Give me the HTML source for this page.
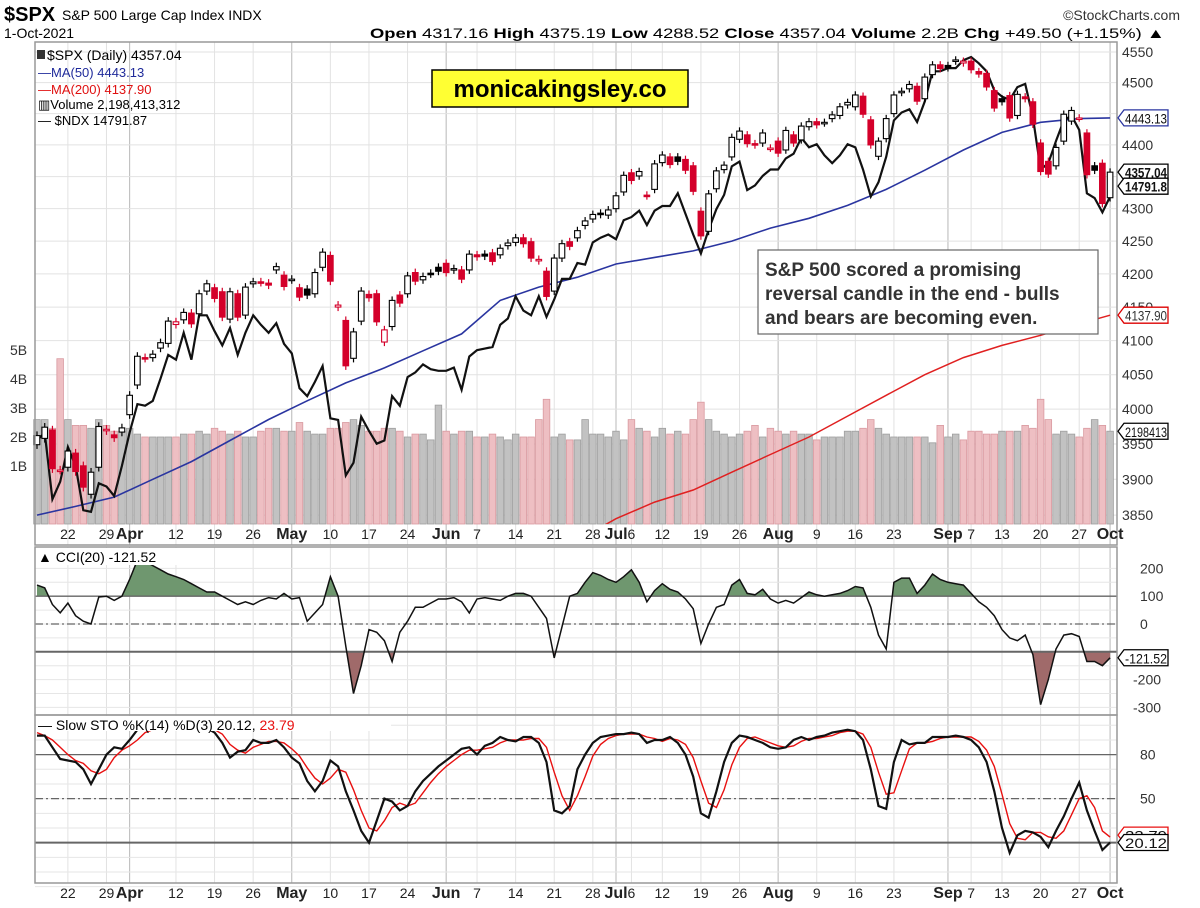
<!DOCTYPE html>
<html><head><meta charset="utf-8"><title>$SPX chart</title>
<style>
html,body{margin:0;padding:0;background:#fff;}
svg{display:block;font-family:"Liberation Sans",Arial,sans-serif;}
</style></head>
<body>
<svg id="chart" width="1200" height="908" viewBox="0 0 1200 908" xmlns="http://www.w3.org/2000/svg">
  <text x="4" y="21" font-size="20" font-weight="bold">$SPX</text>
  <text x="62" y="20" font-size="14">S&amp;P 500 Large Cap Index INDX</text>
  <text x="1180" y="20" font-size="14" text-anchor="end" fill="#333">©StockCharts.com</text>
  <text x="4" y="38" font-size="14">1-Oct-2021</text>
  <text x="370" y="38" font-size="14" textLength="795" lengthAdjust="spacingAndGlyphs"><tspan font-weight="bold">Open</tspan> 4317.16  <tspan font-weight="bold">High</tspan> 4375.19  <tspan font-weight="bold">Low</tspan> 4288.52  <tspan font-weight="bold">Close</tspan> 4357.04  <tspan font-weight="bold">Volume</tspan> 2.2B  <tspan font-weight="bold">Chg</tspan> +49.50 (+1.15%) ▲</text>
  <g id="grid"></g>
  <g id="vol"></g>
  <g id="lines"></g>
  <g id="candles"></g>
  <g id="ind"></g>
  <g id="frames"></g>
  <g id="labels"></g>

  <g font-size="14">
    <text x="47" y="60">$SPX (Daily) 4357.04</text>
    <rect x="37" y="50" width="8" height="9" fill="#333"/>
    <text x="38" y="77" fill="#1f2a9a" font-size="13">—MA(50) 4443.13</text>
    <text x="38" y="94" fill="#e01010" font-size="13">—MA(200) 4137.90</text>
    <text x="38" y="109" font-size="13">▥Volume 2,198,413,312</text>
    <text x="38" y="125" font-size="13">— $NDX 14791.87</text>
  </g>
  <g>
    <rect x="432" y="70" width="256" height="37" fill="#ffff33" stroke="#000" stroke-width="1.5"/>
    <text x="560" y="97" font-size="24" font-weight="bold" text-anchor="middle">monicakingsley.co</text>
  </g>
  <g>
    <rect x="758" y="250" width="340" height="84" fill="#fff" stroke="#666" stroke-width="1.2"/>
    <text x="765" y="276" font-size="19" font-weight="bold" fill="#333">S&amp;P 500 scored a promising</text>
    <text x="765" y="300" font-size="19" font-weight="bold" fill="#333">reversal candle in the end - bulls</text>
    <text x="765" y="324" font-size="19" font-weight="bold" fill="#333">and bears are becoming even.</text>
  </g>
</svg>
<script>
// ---- data ----
const closes=[3962,3974,3915,3913,3940,3911,3889,3910,3975,3971,3959,3973,4020,4077,4074,4080,4097,4129,4128,4142,4125,4170,4185,4163,4135,4173,4135,4180,4188,4187,4183,4211,4181,4192,4165,4168,4202,4233,4189,4153,4063,4113,4174,4164,4128,4116,4160,4156,4197,4189,4196,4200,4204,4202,4208,4192,4230,4226,4227,4219,4239,4247,4255,4246,4224,4222,4166,4224,4246,4242,4266,4281,4291,4291,4298,4320,4352,4344,4358,4320,4370,4384,4369,4374,4360,4327,4258,4323,4359,4368,4412,4422,4402,4400,4419,4395,4387,4423,4403,4430,4437,4432,4436,4448,4461,4468,4480,4449,4400,4406,4442,4480,4486,4497,4470,4509,4529,4523,4524,4537,4535,4521,4514,4493,4459,4469,4443,4481,4474,4433,4358,4354,4396,4449,4455,4443,4353,4360,4308,4357];
const opens=[3949,3958,3970,3913,3917,3937,3919,3879,3917,3969,3963,3967,3992,4035,4075,4075,4089,4096,4124,4131,4141,4140,4174,4179,4173,4132,4170,4138,4185,4188,4186,4206,4198,4191,4179,4177,4170,4210,4228,4150,4130,4074,4129,4169,4170,4098,4121,4168,4170,4202,4191,4201,4210,4216,4206,4206,4206,4229,4230,4232,4229,4243,4248,4255,4249,4220,4204,4174,4224,4249,4255,4274,4284,4293,4290,4300,4326,4356,4351,4321,4330,4372,4381,4381,4377,4367,4296,4265,4331,4361,4381,4409,4416,4402,4403,4395,4406,4392,4416,4408,4429,4437,4435,4442,4447,4464,4461,4478,4440,4382,4410,4450,4484,4490,4494,4474,4513,4529,4528,4535,4532,4535,4518,4515,4487,4474,4479,4447,4477,4469,4403,4374,4367,4406,4438,4443,4419,4367,4371,4317];
const ndx=[13250,13300,12880,12990,13210,13090,12810,12800,12980,12960,12900,13090,13300,13480,13470,13500,13640,13790,13760,13930,13760,14040,14040,13940,13850,13960,13790,13930,14040,13980,13930,13990,13860,13800,13580,13530,13620,13720,13390,13380,13030,13110,13400,13310,13230,13250,13530,13470,13650,13680,13730,13700,13690,13690,13710,13570,13780,13820,13830,13840,13980,14020,14160,14070,14040,14160,14030,14140,14270,14270,14370,14360,14500,14530,14550,14520,14640,14660,14700,14610,14700,14730,14730,14810,14680,14550,14430,14580,14710,14800,14980,15010,14830,14860,14920,14960,14960,15030,15060,15160,15100,15120,15050,15000,15050,15120,15100,14960,14790,14880,15040,15270,15320,15340,15260,15390,15580,15580,15600,15600,15650,15670,15630,15580,15460,15420,15400,15480,15500,15290,14960,15000,15140,15270,15300,15210,14810,14780,14690,14790];
const volume=[2.6,2.6,2.3,4.7,2.6,2.4,2.4,2.3,2.6,2.4,2.2,2.2,2.3,2.1,2.0,2.0,2.0,2.0,2.0,2.1,2.1,2.2,2.1,2.3,2.2,2.1,2.2,2.0,2.0,2.2,2.3,2.3,2.2,2.2,2.5,2.2,2.1,2.1,2.3,2.3,2.5,2.6,2.4,2.2,2.2,2.3,2.3,2.2,2.0,2.1,2.1,1.9,3.1,2.2,2.1,2.2,2.2,2.0,2.0,2.1,2.0,1.9,2.1,2.0,2.0,2.6,3.3,2.0,2.1,1.9,1.9,2.6,2.1,2.1,2.0,2.2,1.9,2.6,2.3,2.2,2.0,2.3,2.1,2.2,2.1,2.6,3.2,2.6,2.2,2.1,2.0,2.1,2.2,2.4,2.0,2.3,2.2,2.1,2.2,2.1,2.1,1.9,2.0,2.0,2.0,2.2,2.2,2.3,2.6,2.3,2.1,2.0,2.0,2.0,2.0,2.0,1.8,2.4,2.0,2.1,1.9,2.2,2.2,2.1,2.1,2.2,2.2,2.2,2.4,2.3,3.3,2.6,2.1,2.2,2.1,2.0,2.3,2.6,2.4,2.2];
// moving averages sampled every 5 sessions (last point = final session)
const ma50=[3850,3862,3875,3900,3925,3955,3985,4012,4038,4060,4085,4110,4160,4180,4195,4215,4225,4235,4250,4270,4285,4305,4330,4360,4392,4420,4436,4442,4443.13];
const ma200=[3620,3640,3655,3670,3685,3700,3715,3725,3735,3745,3755,3765,3775,3790,3815,3845,3868,3885,3910,3935,3960,3990,4020,4050,4075,4093,4108,4125,4137.9];
const cci=[140,130,70,40,75,30,10,0,97,100,85,100,160,230,225,210,195,180,170,160,145,130,115,115,100,85,70,80,70,85,95,90,110,90,95,10,40,70,170,100,-80,-250,-150,-20,-30,-60,-135,-30,10,60,60,75,90,90,95,80,40,90,95,90,85,100,110,110,100,60,20,-122,-10,100,110,150,185,175,160,150,170,195,150,80,120,145,125,115,90,55,-70,0,60,70,140,160,110,105,125,90,75,85,75,95,115,105,100,105,110,120,135,130,60,-40,-90,150,165,165,110,140,180,160,150,145,140,110,80,60,30,-20,-50,-60,-40,-110,-290,-200,-90,-40,-35,-45,-135,-135,-150,-121.52];
const stoK=[93,93,85,77,76,75,70,60,70,80,85,84,90,97,98,98,98,98,98,98,98,98,98,95,88,78,82,83,90,88,88,90,85,78,74,62,55,62,76,72,55,42,28,20,35,50,48,42,45,55,62,67,72,76,80,84,85,80,86,88,92,90,89,92,92,88,75,42,40,45,70,80,88,92,93,94,94,95,94,88,90,90,92,88,80,65,40,37,55,75,88,93,92,90,88,85,84,85,90,92,90,92,93,95,96,97,96,90,70,45,43,75,90,87,88,88,92,92,92,93,92,90,85,75,55,30,13,25,28,27,24,17,28,38,50,61,42,28,15,20.12];
const stoD=[95,93,90,85,80,76,74,69,67,70,78,83,86,90,95,97,98,98,98,98,98,98,98,97,94,87,83,81,85,87,89,89,88,84,79,71,64,60,64,70,68,56,42,30,28,35,44,47,45,47,54,61,67,72,76,80,83,83,84,85,88,90,90,90,91,91,85,68,52,42,52,65,79,87,91,93,94,94,94,92,91,89,91,90,87,78,62,47,44,56,73,85,91,92,90,88,86,85,86,89,91,91,92,93,95,96,96,94,85,68,53,54,69,84,88,88,89,91,92,92,92,92,89,83,72,53,33,23,22,27,27,24,23,28,39,50,52,44,28,23.79];
const priceTicks=[4550,4500,4450,4400,4350,4300,4250,4200,4150,4100,4050,4000,3950,3900,3850];
const volTicks=[1,2,3,4,5];
const cciTicks=[200,100,0,-100,-200,-300];
const stoTicks=[80,50,20];
const dateIdx=[4,9,12,18,23,28,33,38,43,48,53,57,62,67,72,75,77,81,86,91,96,101,106,111,118,121,125,130,135,139];
const dateLbl=["22","29","Apr","12","19","26","May","10","17","24","Jun","7","14","21","28","Jul","6","12","19","26","Aug","9","16","23","Sep","7","13","20","27","Oct"];
const monthLbl=["Apr","May","Jun","Jul","Aug","Sep","Oct"];

// ---- scales ----
const L=35,R=1117;
const X=i=>37+7.72*i;
const Yp=p=>52+2772*Math.log(4550/p);
const ndxMin=12780,ndxMax=15670;
const Yn=v=>515-(v-ndxMin)/(ndxMax-ndxMin)*458;
const Yv=v=>495-v*29;
const Yc=v=>624-v*0.278;
const Ys=v=>872-v*1.467;
const NS="http://www.w3.org/2000/svg";
function mk(parent,tag,attrs){const e=document.createElementNS(NS,tag);for(const k in attrs)e.setAttribute(k,attrs[k]);parent.appendChild(e);return e;}
const g=id=>document.getElementById(id);
const svg=g('chart');
const defs=mk(svg,'defs',{});
const cpM=mk(defs,'clipPath',{id:'cpM'});mk(cpM,'rect',{x:L,y:42,width:R-L,height:482});
const cpAbove=mk(defs,'clipPath',{id:'cpA'});mk(cpAbove,'rect',{x:L,y:547,width:R-L,height:Yc(100)-547});
const cpBelow=mk(defs,'clipPath',{id:'cpB'});mk(cpBelow,'rect',{x:L,y:Yc(-100),width:R-L,height:715-Yc(-100)});

// ---- grid ----
const grid=g('grid');
const panels=[[42,545],[547,715],[715,883]];
dateIdx.forEach((d,k)=>{
  const isM=monthLbl.includes(dateLbl[k]);
  panels.forEach(p=>{
    const ln=mk(grid,'line',{x1:X(d),x2:X(d),y1:p[0],y2:p[1],stroke:isM?'#b8b8b8':'#e2e2e2','stroke-width':1});
    
    
  });
});
priceTicks.forEach(t=>{
  const ln=mk(grid,'line',{x1:L,x2:R,y1:Yp(t),y2:Yp(t),stroke:'#e2e2e2'});
  
  
});
for(let v=-300;v<=200;v+=50){const ln=mk(grid,'line',{x1:L,x2:R,y1:Yc(v),y2:Yc(v),stroke:'#e6e6e6'});
  
  }
for(let v=-10;v<=100;v+=10){const ln=mk(grid,'line',{x1:L,x2:R,y1:Ys(v),y2:Ys(v),stroke:'#e6e6e6'});
  
  }

// ---- volume ----
const vol=g('vol');
volume.forEach((v,i)=>{
  const down=i>0&&closes[i]<closes[i-1];
  const r=mk(vol,'rect',{x:X(i)-3.3,y:Yv(v),width:6.6,height:524-Yv(v),fill:down?'#eebfc3':'#c2c2c2',stroke:down?'#d99aa0':'#9e9e9e','stroke-width':0.8});
  
  
});

// ---- overlay lines ----
const lines=g('lines');
lines.setAttribute('clip-path','url(#cpM)');
const pathFrom=(arr,xf,yf)=>arr.map((v,i)=>(i?'L':'M')+xf(i).toFixed(1)+','+yf(v).toFixed(1)).join('');
const maX=i=>X(Math.min(i*5,139));
const m200=mk(lines,'path',{d:pathFrom(ma200,maX,Yp),fill:'none',stroke:'#e02020','stroke-width':1.5});


const m50=mk(lines,'path',{d:pathFrom(ma50,maX,Yp),fill:'none',stroke:'#2a35a0','stroke-width':1.6});


const nl=mk(lines,'path',{d:pathFrom(ndx,X,Yn),fill:'none',stroke:'#111','stroke-width':2.2});



// ---- candles ----
const cg=g('candles');
closes.forEach((c,i)=>{
  const o=opens[i];
  const down=i>0&&c<closes[i-1];
  const col=down?'#d4002a':'#000';
  const hi=Math.max(o,c),lo=Math.min(o,c);
  const w=mk(cg,'line',{x1:X(i),x2:X(i),y1:Yp(hi+6),y2:Yp(lo-6),stroke:col,'stroke-width':1.2});
  
  
  const h=Math.max(1.5,Yp(lo)-Yp(hi));
  const b=mk(cg,'rect',{x:X(i)-2.8,y:Yp(hi),width:5.6,height:h,fill:c<o?col:'#fff',stroke:col,'stroke-width':1.1});
  
  
});

// ---- indicators ----
const ind=g('ind');
const cciPts=cci.map((v,i)=>X(i).toFixed(1)+','+Yc(v).toFixed(1));
const fa=mk(ind,'polygon',{points:X(0)+','+Yc(100)+' '+cciPts.join(' ')+' '+X(139)+','+Yc(100),fill:'#6f976f','clip-path':'url(#cpA)'});


const fb=mk(ind,'polygon',{points:X(0)+','+Yc(-100)+' '+cciPts.join(' ')+' '+X(139)+','+Yc(-100),fill:'#a06a6a','clip-path':'url(#cpB)'});


[[100,''],[-100,''],[0,'8,3,2,3']].forEach(a=>{
  const ln=mk(ind,'line',{x1:L,x2:R,y1:Yc(a[0]),y2:Yc(a[0]),stroke:'#666','stroke-width':a[0]===-100?2:1.3,'stroke-dasharray':a[1]});
  
  
});
[[80,''],[20,''],[50,'8,3,2,3']].forEach(a=>{
  const ln=mk(ind,'line',{x1:L,x2:R,y1:Ys(a[0]),y2:Ys(a[0]),stroke:'#666','stroke-width':a[0]===20?2:1.3,'stroke-dasharray':a[1]});
  
  
});
const cl=mk(ind,'path',{d:pathFrom(cci,X,Yc),fill:'none',stroke:'#111','stroke-width':1.5});


const dl=mk(ind,'path',{d:pathFrom(stoD,X,Ys),fill:'none',stroke:'#e81010','stroke-width':1.4});


const kl=mk(ind,'path',{d:pathFrom(stoK,X,Ys),fill:'none',stroke:'#111','stroke-width':2.2});


const cb=mk(ind,'rect',{x:36,y:548,width:170,height:17,fill:'#fff'});


const ct=mk(ind,'text',{x:38,y:562,'font-size':14});
ct.textContent='▲ CCI(20) -121.52';


const sb=mk(ind,'rect',{x:36,y:716,width:355,height:15,fill:'#fff'});


const st=mk(ind,'text',{x:38,y:730,'font-size':14});
st.innerHTML='— Slow STO %K(14) %D(3) 20.12, <tspan fill="#e81010">23.79</tspan>';



// ---- frames ----
const fr=g('frames');
panels.forEach(p=>{const r=mk(fr,'rect',{x:L,y:p[0],width:R-L,height:p[1]-p[0],fill:'none',stroke:'#999','stroke-width':1.5});
  
  });

// ---- labels ----
const lb=g('labels');
function txt(x,y,s,attrs,name){const t=mk(lb,'text',Object.assign({x:x,y:y,'font-size':14},attrs||{}));t.textContent=s;
  
  return t;}
priceTicks.forEach(t=>{ if(t!==4450&&t!==4350) txt(1122,Yp(t)+5,String(t),{fill:'#333'},'price-tick-label');});
volTicks.forEach(v=>txt(10,Yv(v)+5,v+'B',{fill:'#333'},'volume-tick-label'));
cciTicks.forEach(v=>{ if(v!==-100) txt(v<0?1133:1140,Yc(v)+5,String(v),{fill:'#333'},'cci-tick-label');});
stoTicks.forEach(v=>{ if(v!==20) txt(1140,Ys(v)+5,String(v),{fill:'#333'},'sto-tick-label');});
dateIdx.forEach((d,k)=>{
  const isM=monthLbl.includes(dateLbl[k]);
  [539,898].forEach(y=>txt(X(d),y,dateLbl[k],{'text-anchor':'middle','font-weight':isM?'bold':'normal','font-size':isM?16:14,fill:'#222'},'date-label'));
});
function tag(y,s,color,bold,name){
  const p=mk(lb,'path',{d:`M1118,${y} l6,-8 h44 v16 h-44 z`,fill:'#fff',stroke:color,'stroke-width':1.3});
  
  
  txt(1125,y+5.5,s,{fill:color==='#d00'?'#333':'#111','font-weight':bold?'bold':'normal',textLength:42,lengthAdjust:'spacingAndGlyphs'},name+'-value');
}
tag(Yp(4443.13),'4443.13','#2a35a0',false,'ma50');
tag(Yp(4357.04),'4357.04','#000',true,'close');
tag(Yn(14791.87)-10,'14791.8','#000',true,'ndx');
tag(Yp(4137.9),'4137.90','#d00',false,'ma200');
tag(Yv(2.198),'2198413','#000',false,'volume');
tag(Yc(-121.52),'-121.52','#000',false,'cci');
tag(Ys(23.79)-2,'23.79','#e81010',false,'sto-d');
tag(Ys(20.12),'20.12','#000',false,'sto-k');
</script>
</body></html>
